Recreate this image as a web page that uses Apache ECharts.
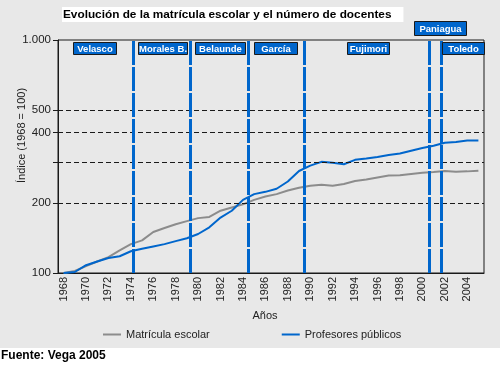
<!DOCTYPE html>
<html>
<head>
<meta charset="utf-8">
<script src="https://cdn.jsdelivr.net/npm/echarts@6/dist/echarts.min.js"></script>
<style>
html,body{margin:0;padding:0;background:#fff;}
#chart{width:500px;height:372px;}
</style>
</head>
<body>
<div id="chart"></div>
<script>
const years = ['1968','1969','1970','1971','1972','1973','1974','1975','1976','1977','1978','1979','1980','1981','1982','1983','1984','1985','1986','1987','1988','1989','1990','1991','1992','1993','1994','1995','1996','1997','1998','1999','2000','2001','2002','2003','2004','2005'];
const matricula = [100,102,107,112,117,125,133,138,150,156,162,167,172,174,185,191,197,206,213,218,226,232,237,239,237,241,248,252,257,262,263,266,269,271,274,272,273,275];
const profesores = [100,101,108,112,116,118,124,127,130,133,137,141,147,157,173,185,206,218,223,230,247,274,289,300,297,293,306,310,315,321,326,335,344,352,362,365,370,370];
const yTicks = [100,200,300,400,500,1000];
const yLabels = [100,200,400,500,1000];
const gridValues = [200,300,400,500];
const periodBreaks = [1974.2,1979.3,1984.45,1989.45,2000.6,2001.7];
const periodNames = ['Velasco','Morales B.','Belaunde','García','Fujimori','Paniagua','Toledo'];
const seriesNames = ['Matrícula escolar','Profesores públicos'];

const FONT = '"Liberation Sans", Arial, sans-serif';
const BLUE = '#0066CC';
const GRAY = '#8c8c8c';
const BG = '#E8E8E8';

const boxes = [
  {x:73,y:42,w:43,h:12},
  {x:138,y:42,w:49,h:12},
  {x:195,y:42,w:50,h:12},
  {x:254,y:42,w:43,h:12},
  {x:347,y:42,w:42,h:12},
  {x:414,y:21,w:52,h:14},
  {x:442,y:42,w:42,h:12}
];
const graphics = [
  {type:'rect', shape:{x:0,y:348,width:500,height:24}, style:{fill:'#fff'}, z:-10, silent:true}
];
periodNames.forEach((n,i)=>{
  const b = boxes[i];
  graphics.push({type:'rect', shape:{x:b.x+0.5,y:b.y+0.5,width:b.w,height:b.h}, style:{fill:BLUE,stroke:'#1a1a1a',lineWidth:1}, z:100});
  graphics.push({type:'text', x:b.x+b.w/2+0.5, y:b.y+b.h/2+1, style:{text:n, fill:'#fff', font:'bold 9.5px '+FONT, textAlign:'center', textVerticalAlign:'middle'}, z:101});
});

const chart = echarts.init(document.getElementById('chart'));
chart.setOption({
  animation:false,
  backgroundColor:BG,
  textStyle:{fontFamily:FONT},
  title:[
    {text:'Evolución de la matrícula escolar y el número de docentes', left:62, top:7, backgroundColor:'#fff', padding:[2,12,1,1],
     textStyle:{fontSize:11.8, fontWeight:'bold', color:'#000', fontFamily:FONT}},
    {text:'Fuente: Vega 2005', left:0, top:350, padding:[0,0,0,1],
     textStyle:{fontSize:12, fontWeight:'bold', color:'#000', fontFamily:FONT}}
  ],
  graphic:graphics,
  legend:{
    data:seriesNames, left:103, top:329, padding:0, icon:'rect', itemWidth:18, itemHeight:2, itemGap:72, itemStyle:{borderWidth:0},
    textStyle:{fontSize:11, color:'#222', fontFamily:FONT}
  },
  grid:{left:58, top:40, width:426, height:233, show:true, borderColor:'#1a1a1a', borderWidth:1, backgroundColor:'transparent', containLabel:false, outerBoundsMode:'none'},
  xAxis:[
    {type:'category', data:years, boundaryGap:true,
     name:'Años', nameLocation:'middle', nameGap:37, nameMoveOverlap:false,
     nameTextStyle:{fontSize:11, color:'#222', padding:[0,12,0,0]},
     axisLine:{lineStyle:{color:'#1a1a1a', width:1}},
     axisTick:{interval:0, length:4, lineStyle:{color:'#1a1a1a'}},
     axisLabel:{interval:1, rotate:90, fontSize:11, color:'#222', margin:4}},
    {type:'value', min:1967.5, max:2005.5, show:false}
  ],
  yAxis:{
    type:'log', logBase:10, min:100, max:1000,
    name:'Índice (1968 = 100)', nameLocation:'middle', nameGap:31, nameMoveOverlap:false,
    nameTextStyle:{fontSize:11, color:'#222', padding:[0,0,0,42]},
    axisLine:{show:true, lineStyle:{color:'#1a1a1a', width:1}},
    axisTick:{show:true, length:5, customValues:yTicks, lineStyle:{color:'#1a1a1a'}},
    axisLabel:{customValues:yLabels, fontSize:11.5, color:'#222', margin:7,
      formatter:v=> v>=1000 ? (v/1000)+'.000' : String(v)},
    splitLine:{show:false}
  },
  series:[
    {name:'grid', type:'line', xAxisIndex:1, data:[], z:1, silent:true,
     markLine:{silent:true, symbol:['none','none'], label:{show:false}, animation:false,
       lineStyle:{color:'#1a1a1a', type:[5,3], width:1},
       data:gridValues.map(v=>({yAxis:v}))}},
    {name:seriesNames[0], type:'line', data:matricula, showSymbol:false, z:2,
     lineStyle:{color:GRAY, width:2}, itemStyle:{color:GRAY}},
    {name:seriesNames[1], type:'line', data:profesores, showSymbol:false, z:3,
     lineStyle:{color:BLUE, width:2}, itemStyle:{color:BLUE}},
    {name:'periods', type:'line', xAxisIndex:1, data:[], z:4, silent:true,
     markLine:{silent:true, symbol:['none','none'], label:{show:false}, animation:false,
       lineStyle:{color:BLUE, type:[24,2], width:3},
       data:periodBreaks.map(v=>({xAxis:v}))}}
  ]
});
</script>
</body>
</html>
